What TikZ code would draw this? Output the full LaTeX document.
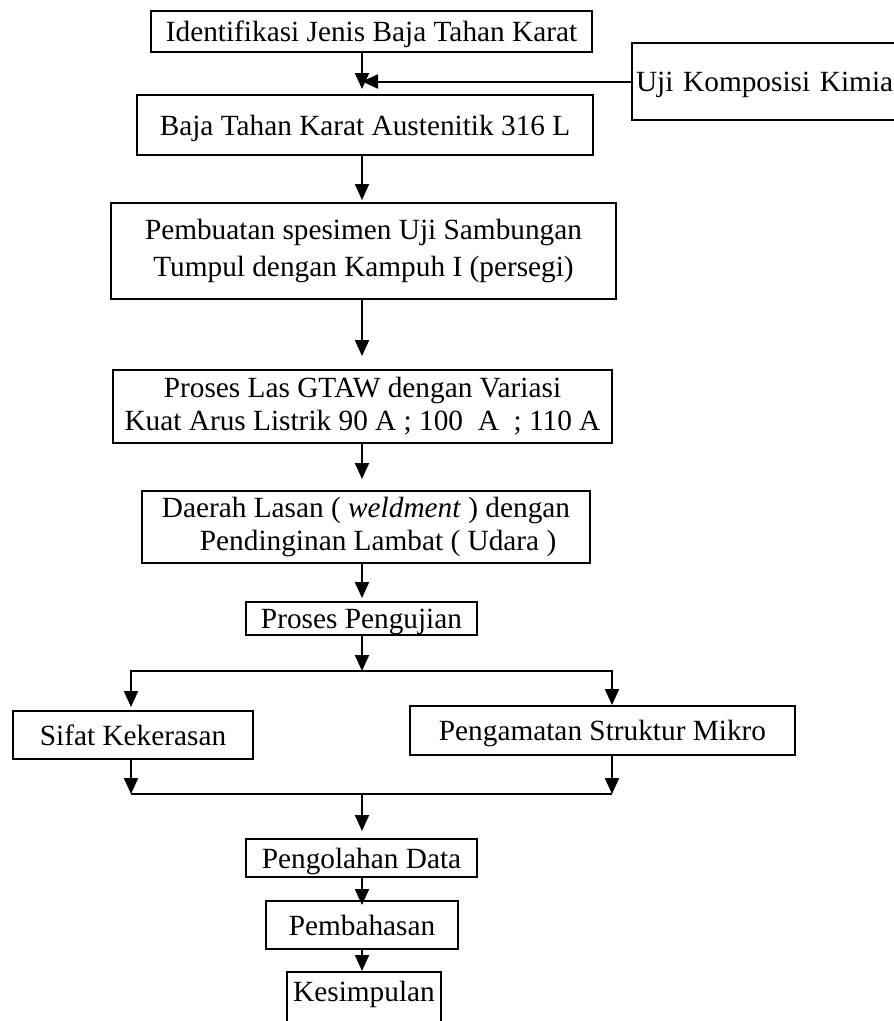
\documentclass[tikz,border=0pt]{standalone}
\usepackage{fontspec}
\setmainfont{Liberation Serif}
\usepackage{tikz}
\usetikzlibrary{arrows.meta, positioning}
\usetikzlibrary{calc}

\begin{document}
\begin{tikzpicture}[x=1pt, y=-1pt,
        kotak/.style={draw, line width=2pt, inner sep=0pt, align=center},
        satu/.style={text height=20pt, text depth=0pt},
        panah/.style={line width=2pt, -{Triangle[width=14pt, length=16pt]}},
        garis/.style={line width=2pt},
        font=\fontsize{29.3}{33}\selectfont]
        \useasboundingbox (0,0) rectangle (894,1021);
        \clip (0,0) rectangle (894,1021);

        % Kotak alur utama
        \node[kotak, satu, minimum width=441pt, minimum height=41pt] (identifikasi) at (371.5,31.5) {Identifikasi Jenis Baja Tahan Karat};
        \node[kotak, satu, anchor=west, text width=277pt, align=left, inner xsep=4pt, minimum height=77pt] (uji) at (631,81.5) {Uji Komposisi Kimia};
        \node[kotak, satu, minimum width=456pt, minimum height=60pt] (baja) at (365,125) {Baja Tahan Karat Austenitik 316 L};
        \node[kotak, minimum width=505pt, minimum height=96pt] (spesimen) at (363.5,251) {Pembuatan spesimen Uji Sambungan\\[4pt]Tumpul dengan Kampuh I (persegi)};
        \node[kotak, minimum width=499pt, minimum height=73pt] (las) at (362.5,406.5) {Proses Las GTAW dengan Variasi\\Kuat Arus Listrik 90 A ; 100\ \ A\ \ ; 110 A};
        \node[kotak, align=left, minimum width=448pt, minimum height=72pt] (lasan) at (366,527) {Daerah Lasan ( \textit{weldment} ) dengan\\\hspace*{38pt}Pendinginan Lambat ( Udara )};
        \node[kotak, satu, minimum width=231pt, minimum height=33pt] (pengujian) at (361.5,618.5) {Proses Pengujian};

        % Dua cabang pengujian
        \node[kotak, satu, minimum width=240pt, minimum height=48pt] (keras) at (133,735) {Sifat Kekerasan};
        \node[kotak, satu, minimum width=385pt, minimum height=49pt] (mikro) at (602.5,730.5) {Pengamatan Struktur Mikro};

        % Akhir alur
        \node[kotak, satu, minimum width=231pt, minimum height=38pt] (olah) at (361.5,858) {Pengolahan Data};
        \node[kotak, satu, minimum width=192pt, minimum height=48pt] (bahas) at (362,925) {Pembahasan};
        \node[kotak, anchor=north, minimum width=154pt, text height=29pt, text depth=40pt] (simpul) at (364,971) {Kesimpulan};

        % Titik bantu
        \coordinate (poros) at (362,0);
        \coordinate (masuk) at (362,89);
        \coordinate (cabang) at (362,671);
        \coordinate (kiri) at (131,671);
        \coordinate (kanan) at (612,671);
        \coordinate (gabung) at (362,794);

        % Panah
        \draw[panah] (identifikasi.south -| masuk) -- (masuk);
        \draw[panah] (uji.west) -- (uji.west -| masuk);
        \draw[panah, shorten >=2pt] (baja.south -| poros) -- (spesimen.north -| poros);
        \draw[panah, shorten >=13pt] (spesimen.south -| poros) -- (las.north -| poros);
        \draw[panah, shorten >=11pt] (las.south -| poros) -- (lasan.north -| poros);
        \draw[panah, shorten >=3pt] (lasan.south -| poros) -- (pengujian.north -| poros);
        \draw[panah] (pengujian.south -| poros) -- (cabang);
        \draw[panah, shorten >=3pt] (cabang) -| (kiri |- keras.north);
        \draw[panah] (cabang) -| (kanan |- mikro.north);
        \draw[panah] (keras.south -| kiri) -- (kiri |- gabung);
        \draw[panah] (mikro.south -| kanan) -- (kanan |- gabung);
        \draw[garis] (kiri |- gabung) -- (kanan |- gabung);
        \draw[panah, shorten >=7pt] (gabung) -- (olah.north -| poros);
        \draw[panah, shorten >=-5pt] (olah.south -| poros) -- (bahas.north -| poros);
        \draw[panah] (bahas.south -| poros) -- (simpul.north -| poros);
\end{tikzpicture}
\end{document}
